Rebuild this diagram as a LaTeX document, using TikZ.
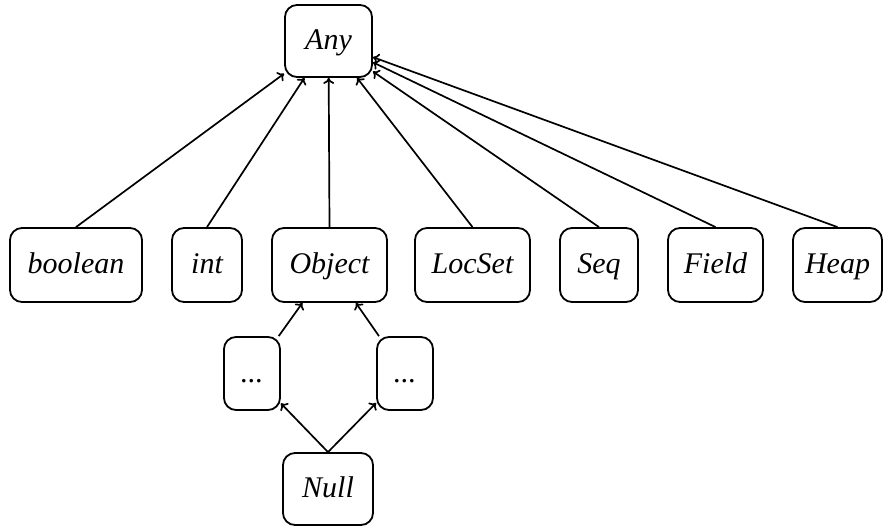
\documentclass[tikz,border=0pt]{standalone}
\usepackage{fontspec}
\setmainfont{Liberation Serif}
\usetikzlibrary{arrows.meta}
\begin{document}
\begin{tikzpicture}[x=1pt,y=-1pt,
  box/.style={draw, line width=1.8pt, rounded corners=12pt, inner sep=0pt,
    minimum height=74pt, text height=21pt, text depth=4pt,
    font=\itshape\fontsize{30}{36}\selectfont},
  arr/.style={line width=1.7pt, -{To[length=6pt,width=11pt]}}]
\useasboundingbox (0,0) rectangle (883,526);
\node[box, minimum width=87pt, minimum height=72pt] (Any) at (328.5,41) {Any};
\node[box, minimum width=132pt] (boolean) at (76,265) {boolean};
\node[box, minimum width=70pt] (int) at (207,265) {int};
\node[box, minimum width=115pt] (Object) at (329.5,265) {Object};
\node[box, minimum width=115pt] (LocSet) at (472.5,265) {LocSet};
\node[box, minimum width=78pt] (Seq) at (599,265) {Seq};
\node[box, minimum width=95pt] (Field) at (715.5,265) {Field};
\node[box, minimum width=89pt] (Heap) at (837.5,265) {Heap};
\node[box, minimum width=56pt, minimum height=73pt] (dotsL) at (252,373.5) {...};
\node[box, minimum width=56pt, minimum height=73pt] (dotsR) at (405,373.5) {...};
\node[box, minimum width=90pt, minimum height=72pt] (Null) at (328,489) {Null};
\foreach \n in {boolean,int,Object,LocSet,Seq,Field,Heap}
  \draw[arr] (\n.north) -- (Any);
\draw[arr] (dotsL) -- (Object);
\draw[arr] (dotsR) -- (Object);
\draw[arr] (Null.north) -- (dotsL);
\draw[arr] (Null.north) -- (dotsR);
\end{tikzpicture}
\end{document}
